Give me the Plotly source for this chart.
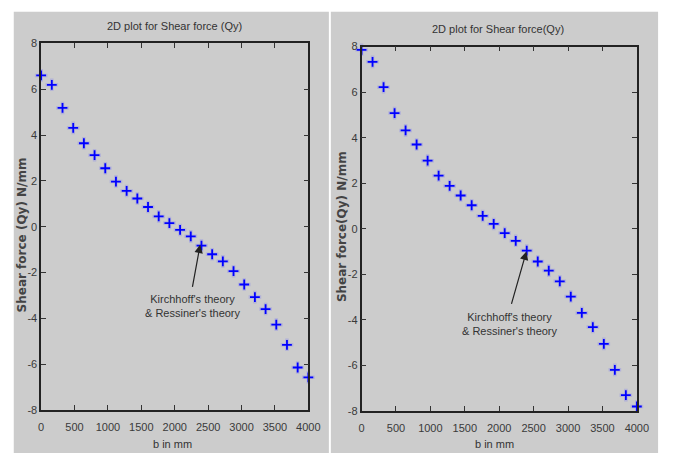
import plotly.graph_objects as go

# ---------------- data ----------------
b_mm = [0, 160, 320, 480, 640, 800, 960, 1120, 1280, 1440, 1600, 1760, 1920,
        2080, 2240, 2400, 2560, 2720, 2880, 3040, 3200, 3360, 3520, 3680, 3840, 4000]
qy_left = [6.60, 6.19, 5.18, 4.31, 3.64, 3.12, 2.55, 1.97, 1.56, 1.23, 0.86, 0.45, 0.16,
           -0.14, -0.42, -0.82, -1.20, -1.51, -1.94, -2.52, -3.07, -3.59, -4.27, -5.15, -6.14, -6.57]
qy_right = [7.86, 7.33, 6.22, 5.08, 4.32, 3.70, 2.99, 2.33, 1.88, 1.46, 1.03, 0.56, 0.21,
            -0.19, -0.53, -0.96, -1.44, -1.84, -2.31, -2.98, -3.70, -4.32, -5.06, -6.20, -7.31, -7.81]
x_ticks = [0, 500, 1000, 1500, 2000, 2500, 3000, 3500, 4000]
y_ticks = [-8, -6, -4, -2, 0, 2, 4, 6, 8]
titles = ["2D plot for Shear force (Qy)", "2D plot for Shear force(Qy)"]
y_titles = ["Shear force (Qy) N/mm", "Shear force(Qy) N/mm"]
x_title = "b in mm"
note_text = "Kirchhoff's theory<br>& Ressiner's theory"

W, H = 674, 459
NARROW = "Liberation Sans Narrow, Arial Narrow, Liberation Sans, sans-serif"
TICKCOL = "#3a3a3a"

def px(x):
    return x / W

def py(y):
    return 1 - y / H

fig = go.Figure()

for i, ys in enumerate([qy_left, qy_right]):
    xa = "x" if i == 0 else "x2"
    ya = "y" if i == 0 else "y2"
    # soft halo
    fig.add_trace(go.Scatter(x=b_mm, y=ys, mode="markers", xaxis=xa, yaxis=ya,
                             marker=dict(symbol="cross-thin", size=9,
                                         line=dict(width=3.5, color="rgba(100,100,255,0.25)")),
                             showlegend=False, hoverinfo="skip", cliponaxis=False))
    fig.add_trace(go.Scatter(x=b_mm, y=ys, mode="markers", xaxis=xa, yaxis=ya,
                             marker=dict(symbol="cross-thin", size=7,
                                         line=dict(width=1.8, color="#0000ff")),
                             showlegend=False, cliponaxis=False))

# panel backgrounds
shapes = [
    dict(type="rect", xref="paper", yref="paper", x0=px(11), x1=px(333.3), y0=py(459), y1=py(6),
         fillcolor="#cccccc", line=dict(width=0), layer="below"),
    dict(type="rect", xref="paper", yref="paper", x0=px(335.3), x1=px(670), y0=py(459), y1=py(6),
         fillcolor="#cccccc", line=dict(width=0), layer="below"),
]

axis_common = dict(
    showgrid=False, zeroline=False, showline=True, linecolor="#222222", linewidth=1.5,
    mirror="ticks", ticks="inside", ticklen=5, tickwidth=1, tickcolor="#333333",
    tickfont=dict(family=NARROW, size=11, color=TICKCOL),
)

fig.update_layout(
    width=W, height=H, margin=dict(l=0, r=0, t=0, b=0),
    paper_bgcolor="white", plot_bgcolor="white",
    shapes=shapes,
    xaxis=dict(domain=[px(39), px(312.3)], range=[0, 4000], anchor="y", ticklabelstandoff=6,
               tickvals=x_ticks, ticktext=[str(v) for v in x_ticks], **axis_common),
    yaxis=dict(domain=[py(415), py(38.3)], range=[-8, 8], anchor="x",
               tickvals=y_ticks, ticktext=[str(v) for v in y_ticks], **axis_common),
    xaxis2=dict(domain=[px(366.7), px(648.3)], range=[0, 4000], anchor="y2", ticklabelstandoff=6,
                tickvals=x_ticks, ticktext=[str(v) for v in x_ticks], **axis_common),
    yaxis2=dict(domain=[py(415.7), py(41.7)], range=[-8, 8], anchor="x2",
                tickvals=y_ticks, ticktext=[str(v) for v in y_ticks], **axis_common),
)

ann = []
# titles
for cx, cy, t in [(175, 21, titles[0]), (506.7, 24, titles[1])]:
    ann.append(dict(x=px(cx), y=py(cy), xref="paper", yref="paper", text=t, showarrow=False,
                    xanchor="center", yanchor="middle",
                    font=dict(family=NARROW, size=11, color="#333333")))
# x titles
for cx in [173.3, 503]:
    ann.append(dict(x=px(cx), y=py(450), xref="paper", yref="paper", text=x_title, showarrow=False,
                    xanchor="center", yanchor="middle",
                    font=dict(family=NARROW, size=11, color="#333333")))
# y titles
for cx, cy, t in [(19, 235, y_titles[0]), (346.7, 226, y_titles[1])]:
    ann.append(dict(x=px(cx), y=py(cy), xref="paper", yref="paper", text=t, showarrow=False,
                    textangle=-90, xanchor="center", yanchor="middle",
                    font=dict(family="DejaVu Sans, Verdana, sans-serif", size=12, color="#444444",
                              weight="bold")))
# arrows and notes
for xr, yr, hx, hy, tx, ty, nx, ny in [("x", "y", 2381, -0.78, 2261, -2.69, 2266, -3.47),
                                       ("x2", "y2", 2395, -1.0, 2172, -3.37, 2154, -4.18)]:
    ann.append(dict(x=hx, y=hy, ax=tx, ay=ty, xref=xr, yref=yr, axref=xr, ayref=yr,
                    text="", showarrow=True, arrowhead=2, arrowsize=1.4, arrowwidth=1.2,
                    arrowcolor="#222222", standoff=0, startstandoff=0))
    ann.append(dict(x=nx, y=ny, xref=xr, yref=yr, text=note_text, showarrow=False,
                    xanchor="center", yanchor="middle", align="center",
                    font=dict(family=NARROW, size=11, color="#333333")))

fig.update_layout(annotations=ann)
fig.write_html("out.html")
